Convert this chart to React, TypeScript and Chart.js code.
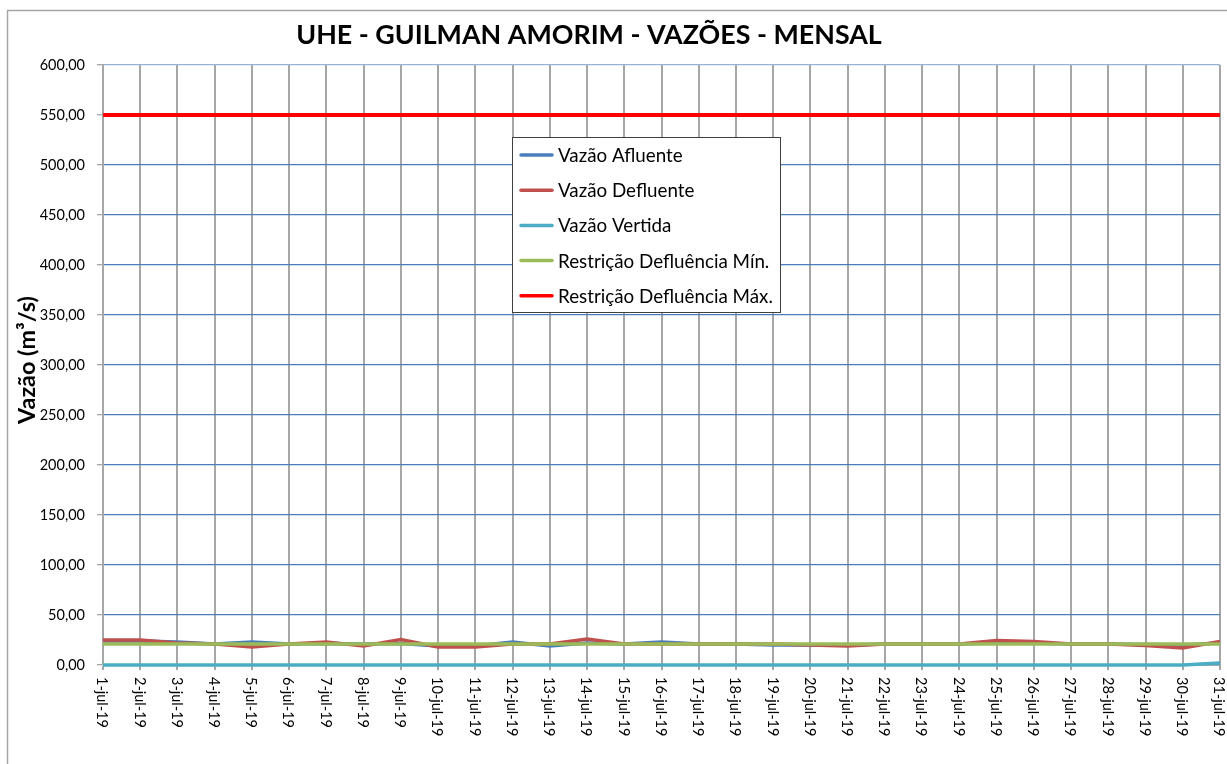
import React, { useEffect, useRef } from "react";
import { Chart, registerables } from "chart.js";

Chart.register(...registerables);

const TITLE = "UHE - GUILMAN AMORIM - VAZÕES - MENSAL";
const Y_TITLE = "Vazão (m³/s)";

const days: string[] = Array.from({ length: 31 }, (_, i) => `${i + 1}-jul-19`);

const afluente = [24, 24, 23, 21, 23, 21, 21.5, 21, 21.5, 19, 19, 23, 19, 22, 21, 23, 21, 21, 20, 20, 20, 21, 21, 21, 22, 22, 21, 21, 20.5, 20, 22];
const defluente = [25, 25, 22, 21, 18, 21, 23, 19, 25.5, 18, 18, 21, 21, 26, 21, 21, 21, 21, 21, 20, 19, 21, 21, 21, 24.5, 23.5, 21, 21, 19.5, 17, 23.5];
const vertida = [0, 0, 0, 0, 0, 0, 0, 0, 0, 0, 0, 0, 0, 0, 0, 0, 0, 0, 0, 0, 0, 0, 0, 0, 0, 0, 0, 0, 0, 0, 2];
const restricaoMin = days.map(() => 21);
const restricaoMax = days.map(() => 550);

const seriesNames = ["Vazão Afluente", "Vazão Defluente", "Vazão Vertida", "Restrição Defluência Mín.", "Restrição Defluência Máx."];
const seriesColors = ["#4A7EBB", "#C0504D", "#4BACC6", "#9BBB59", "#FF0000"];

const Y_MIN = 0;
const Y_MAX = 600;
const Y_STEP = 50;

function fitFont(ctx: CanvasRenderingContext2D, text: string, width: number, weight: string, family: string) {
  ctx.font = `${weight} 20px ${family}`;
  const w = ctx.measureText(text).width;
  return (20 * width) / w;
}

const decorPlugin = {
  id: "decor",
  beforeDraw(chart: any) {
    const ctx = chart.ctx;
    ctx.save();
    ctx.fillStyle = "#ffffff";
    ctx.fillRect(0, 0, chart.width, chart.height);
    ctx.restore();
  },
  afterDraw(chart: any) {
    const ctx: CanvasRenderingContext2D = chart.ctx;
    const fam = "Lato, 'Open Sans', sans-serif";
    ctx.save();
    // outer frame
    ctx.strokeStyle = "#A6A6A6";
    ctx.lineWidth = 1.5;
    ctx.strokeRect(7.5, 10.5, 1400, 900);

    // title
    const ts = fitFont(ctx, TITLE, 586, "bold", fam);
    ctx.font = `bold ${ts}px ${fam}`;
    ctx.fillStyle = "#000";
    ctx.textAlign = "center";
    ctx.textBaseline = "middle";
    ctx.fillText(TITLE, 589, 35);

    // y title
    const ys = fitFont(ctx, Y_TITLE, 128, "bold", fam);
    ctx.save();
    ctx.translate(27, 360);
    ctx.rotate(-Math.PI / 2);
    ctx.font = `bold ${ys}px ${fam}`;
    ctx.fillText(Y_TITLE, 0, 0);
    ctx.restore();

    // x labels rotated clockwise
    const xs = chart.scales.x;
    ctx.font = `14.5px ${fam}`;
    ctx.textAlign = "left";
    ctx.textBaseline = "middle";
    days.forEach((d, i) => {
      const x = xs.getPixelForValue(i);
      ctx.save();
      ctx.translate(x - 1, 677);
      ctx.rotate(Math.PI / 2);
      ctx.fillText(d, 0, 0);
      ctx.restore();
    });

    // legend
    const bx = 512, by = 137.5, bw = 268, bh = 175;
    ctx.fillStyle = "#fff";
    ctx.fillRect(bx, by, bw, bh);
    ctx.strokeStyle = "#404040";
    ctx.lineWidth = 1;
    ctx.strokeRect(bx + 0.5, by, bw, bh);
    const ls = fitFont(ctx, seriesNames[4], 215, "normal", fam);
    ctx.font = `${ls}px ${fam}`;
    ctx.textAlign = "left";
    ctx.textBaseline = "middle";
    seriesNames.forEach((n, i) => {
      const y = 155 + i * 35.2;
      ctx.strokeStyle = seriesColors[i];
      ctx.lineWidth = 3.5;
      ctx.lineCap = "round";
      ctx.beginPath();
      ctx.moveTo(521, y);
      ctx.lineTo(552, y);
      ctx.stroke();
      ctx.fillStyle = "#000";
      ctx.fillText(n, 558, y + 1);
    });
    ctx.restore();
  },
};

export default function App() {
  const ref = useRef<HTMLCanvasElement>(null);
  useEffect(() => {
    if (!ref.current) return;
    const data = [afluente, defluente, vertida, restricaoMin, restricaoMax];
    const orders = [5, 4, 3, 2, 1];
    const chart = new Chart(ref.current, {
      type: "line",
      data: {
        labels: days,
        datasets: data.map((d, i) => ({
          label: seriesNames[i],
          data: d,
          borderColor: seriesColors[i],
          backgroundColor: seriesColors[i],
          borderWidth: i === 4 ? 4 : 3.5,
          pointRadius: 0,
          tension: 0,
          order: orders[i],
          clip: 6,
        })),
      },
      options: {
        animation: false,
        responsive: false,
        devicePixelRatio: 1,
        layout: { padding: { left: 0, top: 65, right: 7, bottom: 0 } },
        plugins: {
          legend: { display: false },
          title: { display: false },
          tooltip: { enabled: false },
        },
        scales: {
          x: {
            type: "category",
            offset: false,
            afterFit: (s: any) => { s.height = 99; },
            ticks: { display: false },
            grid: { color: "#A6A6A6", lineWidth: 2, tickLength: 5, drawTicks: true, tickColor: "#A6A6A6" },
            border: { color: "#A6A6A6", width: 1 },
          },
          y: {
            min: Y_MIN,
            max: Y_MAX,
            afterFit: (s: any) => { s.width = 103; },
            ticks: {
              stepSize: Y_STEP,
              padding: 12,
              color: "#000",
              font: { family: "Lato, 'Open Sans', sans-serif", size: 14.5 },
              callback: (v: any) => Number(v).toFixed(2).replace(".", ","),
            },
            grid: {
              color: (c: any) => (c.tick && c.tick.value === Y_MAX ? "#95B3D7" : "#4A7EBB"),
              lineWidth: 1.3,
              tickLength: 6,
              tickColor: "#A6A6A6",
            },
            border: { color: "#A6A6A6", width: 2 },
          },
        },
      },
      plugins: [decorPlugin],
    });
    return () => chart.destroy();
  }, []);
  return (
    <div style={{ position: "fixed", left: 0, top: 0, width: 1227, height: 764 }}>
      <canvas ref={ref} width={1227} height={764} />
    </div>
  );
}
